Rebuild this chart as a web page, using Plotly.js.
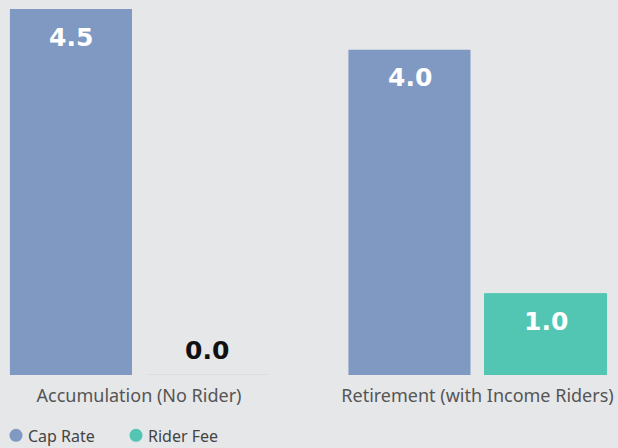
<!DOCTYPE html>
<html><head><meta charset="utf-8">
<script src="https://cdn.plot.ly/plotly-3.0.1.min.js"></script>
<style>html,body{margin:0;padding:0;background:#e6e7e9;}#chart{width:618px;height:448px;}</style>
</head><body><div id="chart"></div>
<script>
const categories = ["Accumulation (No Rider)", "Retirement (with Income Riders)"];
const seriesNames = ["Cap Rate", "Rider Fee"];
const capRate = [4.5, 4.0];
const riderFee = [0.0, 1.0];
const colors = ["#7f99c2", "#52c6b3"];

const traces = [
  {type:'bar', name:seriesNames[0], x:categories, y:capRate, marker:{color:colors[0]}, hoverinfo:'none'},
  {type:'bar', name:seriesNames[1], x:categories, y:riderFee, marker:{color:colors[1], line:{color:riderFee.map(v=>v===0?'#d2dcdc':colors[1]), width:1}}, hoverinfo:'none'}
];
const annotations = [];
const shifts = [-68, 68];
[capRate, riderFee].forEach((arr, si) => {
  arr.forEach((v, ci) => {
    annotations.push({
      x: categories[ci], y: v, xref:'x', yref:'y', xshift: shifts[si],
      yshift: v > 0 ? -28 : 25, yanchor:'middle', showarrow:false,
      text: v.toFixed(1),
      font:{family:'DejaVu Sans', size:25, color: v > 0 ? '#ffffff' : '#111111', weight:'bold'}
    });
  });
});
const layout = {
  width:618, height:448,
  paper_bgcolor:'#e6e7e9', plot_bgcolor:'#e6e7e9',
  margin:{l:0, r:0, t:9, b:73, autoexpand:false},
  barmode:'group', bargap:0.196, bargroupgap:0.103,
  showlegend:true,
  legend:{orientation:'h', x:-12/618, xanchor:'left', y:-0.165, yanchor:'middle', font:{family:'Noto Sans', size:16, color:'#444'}, entrywidth:75, entrywidthmode:'pixels', traceorder:'normal'},
  xaxis:{type:'category', automargin:false, range:[-0.4106, 1.415], showgrid:false, zeroline:false, showline:false, ticks:'', ticklabelstandoff:8, tickfont:{family:'Noto Sans', size:18, color:'#555'}, fixedrange:true},
  yaxis:{range:[0, 4.5], automargin:false, visible:false, showgrid:false, zeroline:false, fixedrange:true},
  annotations: annotations,
  font:{family:'Noto Sans'}
};
Plotly.newPlot('chart', traces, layout, {displayModeBar:false, staticPlot:true}).then(() => {
  document.querySelectorAll('.legend .legendpoints path').forEach(p => {
    p.setAttribute('d', 'M14.5,0A6.5,6.5 0 1,1 1.5,0A6.5,6.5 0 1,1 14.5,0Z');
    p.style.strokeWidth = '0';
  });
});
</script></body></html>
